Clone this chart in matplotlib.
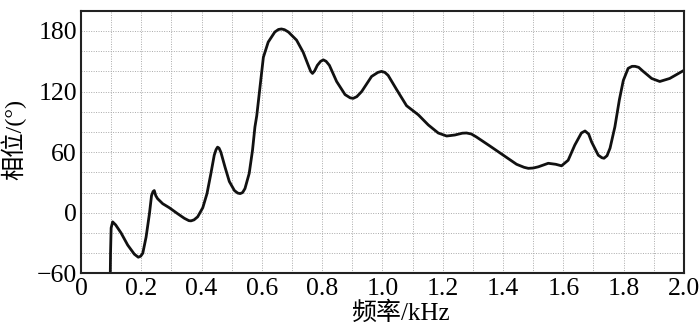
import numpy as np
import matplotlib.pyplot as plt
from matplotlib.ticker import MultipleLocator

# phase response
freq = [0.097, 0.098, 0.100, 0.105, 0.115, 0.133, 0.155, 0.177, 0.190, 0.198,
        0.205, 0.216, 0.227, 0.234, 0.239, 0.243, 0.248, 0.254, 0.271, 0.293,
        0.321, 0.343, 0.358, 0.365, 0.375, 0.387, 0.404, 0.418, 0.431, 0.442,
        0.448, 0.453, 0.458, 0.464, 0.478, 0.492, 0.509, 0.520, 0.528, 0.536,
        0.544, 0.558, 0.569, 0.577, 0.583, 0.594, 0.605, 0.621, 0.643, 0.655,
        0.665, 0.675, 0.688, 0.715, 0.737, 0.754, 0.762, 0.768, 0.775, 0.784,
        0.795, 0.804, 0.813, 0.824, 0.848, 0.876, 0.893, 0.903, 0.915, 0.931,
        0.964, 0.985, 0.997, 1.008, 1.019, 1.047, 1.080, 1.119, 1.152, 1.185,
        1.213, 1.240, 1.265, 1.279, 1.295, 1.312, 1.357, 1.401, 1.445, 1.470,
        1.484, 1.500, 1.517, 1.550, 1.575, 1.594, 1.616, 1.638, 1.660, 1.672,
        1.684, 1.694, 1.716, 1.728, 1.735, 1.745, 1.755, 1.771, 1.786, 1.799,
        1.815, 1.828, 1.838, 1.850, 1.865, 1.893, 1.920, 1.953, 2.000]
phase = [-65, -40, -15, -9, -12, -20, -32, -41, -44, -43,
         -40, -24, -1, 17, 21, 22, 17, 14, 9, 5,
         -1, -5.5, -7.8, -8, -7, -4, 5, 19, 39, 57,
         62.5, 65, 64, 60, 45, 31, 22, 19.5, 19, 20,
         24, 39, 62, 85, 96, 125, 154, 169, 179, 181.5,
         182, 181.3, 179, 171, 159, 146, 140, 138, 140.5, 146,
         150, 151.4, 150, 146, 130, 117, 113.8, 113.3, 115, 120,
         135, 139, 140, 139, 136, 122, 106, 97, 87, 79,
         76, 77, 78.8, 79, 78, 75, 66, 57, 48, 45,
         44, 44.3, 45.5, 49, 48, 46.5, 52, 67, 79, 81,
         78, 70, 57, 54.5, 54, 56.5, 64, 85, 112, 131,
         143, 145, 145, 144, 140, 133, 130, 133, 141]

yticks = [-60, 0, 60, 120, 180]
xticks = [0, 0.2, 0.4, 0.6, 0.8, 1.0, 1.2, 1.4, 1.6, 1.8, 2.0]
xlabels = ['0', '0.2', '0.4', '0.6', '0.8', '1.0', '1.2', '1.4', '1.6', '1.8', '2.0']

fam = ['Liberation Serif', 'Noto Sans CJK SC']
plt.rcParams['font.family'] = fam
plt.rcParams['axes.unicode_minus'] = True

fig = plt.figure(figsize=(7, 3.27), dpi=100)
ax = fig.add_axes([0.1157, 0.164, 0.8613, 0.803])

ax.plot(freq, phase, color='#111111', lw=2.0, solid_joinstyle='round',
        solid_capstyle='round')

ax.set_xlim(0, 2.0)
ax.set_ylim(-60, 200)
ax.set_xticks(xticks)
ax.set_xticklabels(xlabels)
ax.set_yticks(yticks)
ax.xaxis.set_minor_locator(MultipleLocator(0.1))
ax.yaxis.set_minor_locator(MultipleLocator(20))
ax.grid(which='both', color='#aaaaaa', ls=(0, (1, 1.5)), lw=0.7)
ax.tick_params(which='both', length=0, labelsize=18.5, pad=3)
for s in ax.spines.values():
    s.set_linewidth(1.5)
    s.set_color('#222222')

ax.set_xlabel('频率/kHz', fontsize=18, family=fam)
ax.xaxis.set_label_coords(0.529, -0.108, transform=ax.transAxes)
ax.xaxis.label.set_va('top')
ax.set_ylabel('相位/(°)', fontsize=17.5, family=fam)
ax.yaxis.set_label_coords(-0.09, 0.51)

fig.savefig('out.png', dpi=100)
